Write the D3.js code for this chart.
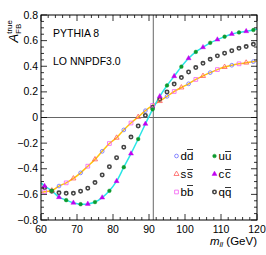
<!DOCTYPE html>
<html>
<head>
<meta charset="utf-8">
<script src="https://cdn.jsdelivr.net/npm/d3@7"></script>
<style>
body { margin: 0; background: #fff; }
text { font-family: "Liberation Sans", Arial, sans-serif; }
</style>
</head>
<body>
<svg id="chart"></svg>
<script>
var width = 266, height = 255;
var margin = ({top: 15, right: 9, bottom: 35, left: 41});

// dilepton mass bins (GeV)
var dMass = [65, 71, 77, 83, 89, 95, 101, 107, 113, 119];
var dVals = [-0.535, -0.432, -0.264, -0.097, 0.053, 0.165, 0.263, 0.35, 0.408, 0.436];
var sMass = [63, 69, 75, 81, 87, 93, 99, 105, 111, 117];
var sVals = [-0.57, -0.476, -0.327, -0.158, 0.004, 0.128, 0.234, 0.324, 0.394, 0.428];
var bMass = [61, 67, 73, 79, 85, 91, 97, 103, 109, 115];
var bVals = [-0.58, -0.51, -0.38, -0.203, -0.043, 0.094, 0.203, 0.297, 0.374, 0.419];
var uMass = [63, 67, 71, 75, 79, 83, 87, 91, 95, 99, 103, 107, 111, 115, 119];
var uVals = [-0.571, -0.645, -0.677, -0.66, -0.572, -0.388, -0.168, 0.064, 0.25, 0.397, 0.512, 0.583, 0.631, 0.664, 0.683];
var cMass = [61, 65, 69, 73, 77, 81, 85, 89, 93, 97, 101, 105, 109, 113, 117];
var cVals = [-0.535, -0.622, -0.666, -0.675, -0.625, -0.497, -0.282, -0.05, 0.165, 0.322, 0.462, 0.548, 0.608, 0.652, 0.673];
var qMass = [61, 63, 65, 67, 69, 71, 73, 75, 77, 79, 81, 83, 85, 87, 89, 91, 93, 95, 97, 99, 101, 103, 105, 107, 109, 111, 113, 115, 117, 119];
var qVals = [-0.548, -0.575, -0.588, -0.592, -0.592, -0.575, -0.552, -0.508, -0.448, -0.384, -0.314, -0.232, -0.153, -0.066, 0.016, 0.08, 0.142, 0.199, 0.261, 0.312, 0.355, 0.39, 0.423, 0.454, 0.481, 0.502, 0.521, 0.54, 0.554, 0.571];
// fit curve values at the plot edges (60 and 120 GeV)
var upFitEnds = [-0.51, 0.69];
var downFitEnds = [-0.585, 0.44];
var zMass = 91.19;

var xTicks = [60, 70, 80, 90, 100, 110, 120];
var yTicks = [-0.8, -0.6, -0.4, -0.2, 0, 0.2, 0.4, 0.6, 0.8];

var svg = d3.select('#chart')
	.attr('width', width)
	.attr('height', height);

var x = d3.scaleLinear()
	.domain([60, 120])
	.range([margin.left, width - margin.right]);
var y = d3.scaleLinear()
	.domain([-0.8, 0.8])
	.range([height - margin.bottom, margin.top]);

function pairs(m, v){ return m.map((d, i) => [d, v[i]]); }

// reference lines
svg.append('line')
	.attr('x1', x(60)).attr('x2', x(120))
	.attr('y1', y(0)).attr('y2', y(0))
	.attr('stroke', '#666').attr('stroke-width', 1);
svg.append('line')
	.attr('x1', x(zMass)).attr('x2', x(zMass))
	.attr('y1', y(-0.8)).attr('y2', y(0.8))
	.attr('stroke', '#666').attr('stroke-width', 1);

// fit curves
var line = d3.line()
	.x(d => x(d[0]))
	.y(d => y(d[1]))
	.curve(d3.curveCatmullRom);

var upPts = pairs(uMass, uVals).concat(pairs(cMass, cVals)).sort((a, b) => a[0] - b[0]);
upPts = [[60, upFitEnds[0]]].concat(upPts, [[120, upFitEnds[1]]]);
var downPts = pairs(dMass, dVals).concat(pairs(sMass, sVals), pairs(bMass, bVals)).sort((a, b) => a[0] - b[0]);
downPts = [[60, downFitEnds[0]]].concat(downPts, [[120, downFitEnds[1]]]);

svg.append('path')
	.attr('d', line(downPts))
	.attr('fill', 'none')
	.attr('stroke', '#ffc20e')
	.attr('stroke-width', 1.5);
svg.append('path')
	.attr('d', line(upPts))
	.attr('fill', 'none')
	.attr('stroke', '#2ae6e6')
	.attr('stroke-width', 1.5);

// marker styles
var styles = {
	d: {shape: d3.symbolCircle, size: 11, fill: 'none', stroke: '#6b6bff', sw: 0.8},
	s: {shape: d3.symbolTriangle, size: 11, fill: 'none', stroke: '#ff5a5a', sw: 0.8},
	b: {shape: d3.symbolSquare, size: 14, fill: 'none', stroke: '#f25cf2', sw: 0.8},
	u: {shape: d3.symbolCircle, size: 11, fill: '#0d9b2e', stroke: '#0d9b2e', sw: 0.4},
	c: {shape: d3.symbolTriangle, size: 11, fill: '#c000f0', stroke: '#c000f0', sw: 0.4},
	q: {shape: d3.symbolCircle, size: 9, fill: 'none', stroke: '#444', sw: 1.6}
};

function drawSeries(key, m, v){
	var st = styles[key];
	svg.append('g')
		.selectAll('path')
		.data(pairs(m, v))
		.join('path')
			.attr('transform', d => 'translate(' + x(d[0]) + ',' + y(d[1]) + ')')
			.attr('d', d3.symbol().type(st.shape).size(st.size))
			.attr('fill', st.fill)
			.attr('stroke', st.stroke)
			.attr('stroke-width', st.sw);
}
drawSeries('q', qMass, qVals);
drawSeries('d', dMass, dVals);
drawSeries('s', sMass, sVals);
drawSeries('b', bMass, bVals);
drawSeries('u', uMass, uVals);
drawSeries('c', cMass, cVals);

// frame and ticks (ROOT style, ticks inside on all sides)
svg.append('rect')
	.attr('x', x(60)).attr('y', y(0.8))
	.attr('width', x(120) - x(60)).attr('height', y(-0.8) - y(0.8))
	.attr('fill', 'none').attr('stroke', '#000').attr('stroke-width', 1);

var xMinor = d3.range(60, 120.01, 2);
var yMinor = d3.range(-0.8, 0.801, 0.05);
var tg = svg.append('g').attr('stroke', '#000').attr('stroke-width', 0.8);
xMinor.forEach(function(v){
	var len = (Math.round(v) % 10 == 0) ? 6 : 3;
	tg.append('line').attr('x1', x(v)).attr('x2', x(v)).attr('y1', y(-0.8)).attr('y2', y(-0.8) - len);
	tg.append('line').attr('x1', x(v)).attr('x2', x(v)).attr('y1', y(0.8)).attr('y2', y(0.8) + len);
});
yMinor.forEach(function(v){
	var major = Math.abs(Math.round(v * 5) - v * 5) < 1e-6;
	var len = major ? 6 : 3;
	tg.append('line').attr('x1', x(60)).attr('x2', x(60) + len).attr('y1', y(v)).attr('y2', y(v));
	tg.append('line').attr('x1', x(120)).attr('x2', x(120) - len).attr('y1', y(v)).attr('y2', y(v));
});

// tick labels
svg.append('g')
	.selectAll('text')
	.data(xTicks)
	.join('text')
		.attr('x', d => x(d))
		.attr('y', y(-0.8) + 13)
		.attr('text-anchor', 'middle')
		.attr('font-size', 10.5)
		.text(d => d);
svg.append('g')
	.selectAll('text')
	.data(yTicks)
	.join('text')
		.attr('x', x(60) - 3)
		.attr('y', d => y(d) + 3.5)
		.attr('text-anchor', 'end')
		.attr('font-size', 10.5)
		.text(d => d == 0 ? '0' : d3.format('.1f')(d).replace('-', '\u2212'));

// axis titles
var xl = svg.append('text')
	.attr('x', x(120))
	.attr('y', height - 10)
	.attr('text-anchor', 'end')
	.attr('font-size', 11.5);
xl.append('tspan').attr('font-style', 'italic').text('m');
xl.append('tspan').attr('font-style', 'italic').attr('font-size', 8).attr('dy', 2).text('ll');
xl.append('tspan').attr('dy', -2).text(' (GeV)');

var yl = svg.append('text')
	.attr('transform', 'translate(18,' + (y(0.8) + 5) + ') rotate(-90)')
	.attr('text-anchor', 'end')
	.attr('font-size', 13);
yl.append('tspan').attr('font-style', 'italic').text('A');
yl.append('tspan').attr('font-size', 8).attr('dy', -6).text('true');
yl.append('tspan').attr('font-size', 8).attr('dx', -14).attr('dy', 9).text('FB');

// annotations
svg.append('text').attr('x', 53).attr('y', 37).attr('font-size', 10.5).text('PYTHIA 8');
svg.append('text').attr('x', 53).attr('y', 65).attr('font-size', 10.5).text('LO NNPDF3.0');

// legend
var legend = [
	{key: 'd', q: 'd', col: 0, row: 0},
	{key: 'u', q: 'u', col: 1, row: 0},
	{key: 's', q: 's', col: 0, row: 1},
	{key: 'c', q: 'c', col: 1, row: 1},
	{key: 'b', q: 'b', col: 0, row: 2},
	{key: 'q', q: 'q', col: 1, row: 2}
];
var lg = svg.append('g')
	.selectAll('g')
	.data(legend)
	.join('g')
		.attr('transform', d => 'translate(' + (176.5 + d.col * 38) + ',' + (156 + d.row * 18) + ')');
lg.append('path')
	.attr('d', d => d3.symbol().type(styles[d.key].shape).size(styles[d.key].size)())
	.attr('fill', d => styles[d.key].fill)
	.attr('stroke', d => styles[d.key].stroke)
	.attr('stroke-width', d => styles[d.key].sw);
lg.append('text')
	.attr('x', 4)
	.attr('y', 4)
	.attr('font-size', 11.5)
	.text(d => d.q);
// antiquark: second letter with a bar on top
lg.append('text')
	.attr('x', 10.5)
	.attr('y', 4)
	.attr('font-size', 11.5)
	.text(d => d.q);
lg.append('line')
	.attr('x1', 10.5).attr('x2', 16.5)
	.attr('y1', d => (d.q == 'd' || d.q == 'b') ? -6.5 : -4.5)
	.attr('y2', d => (d.q == 'd' || d.q == 'b') ? -6.5 : -4.5)
	.attr('stroke', '#000').attr('stroke-width', 0.8);
</script>
</body>
</html>
